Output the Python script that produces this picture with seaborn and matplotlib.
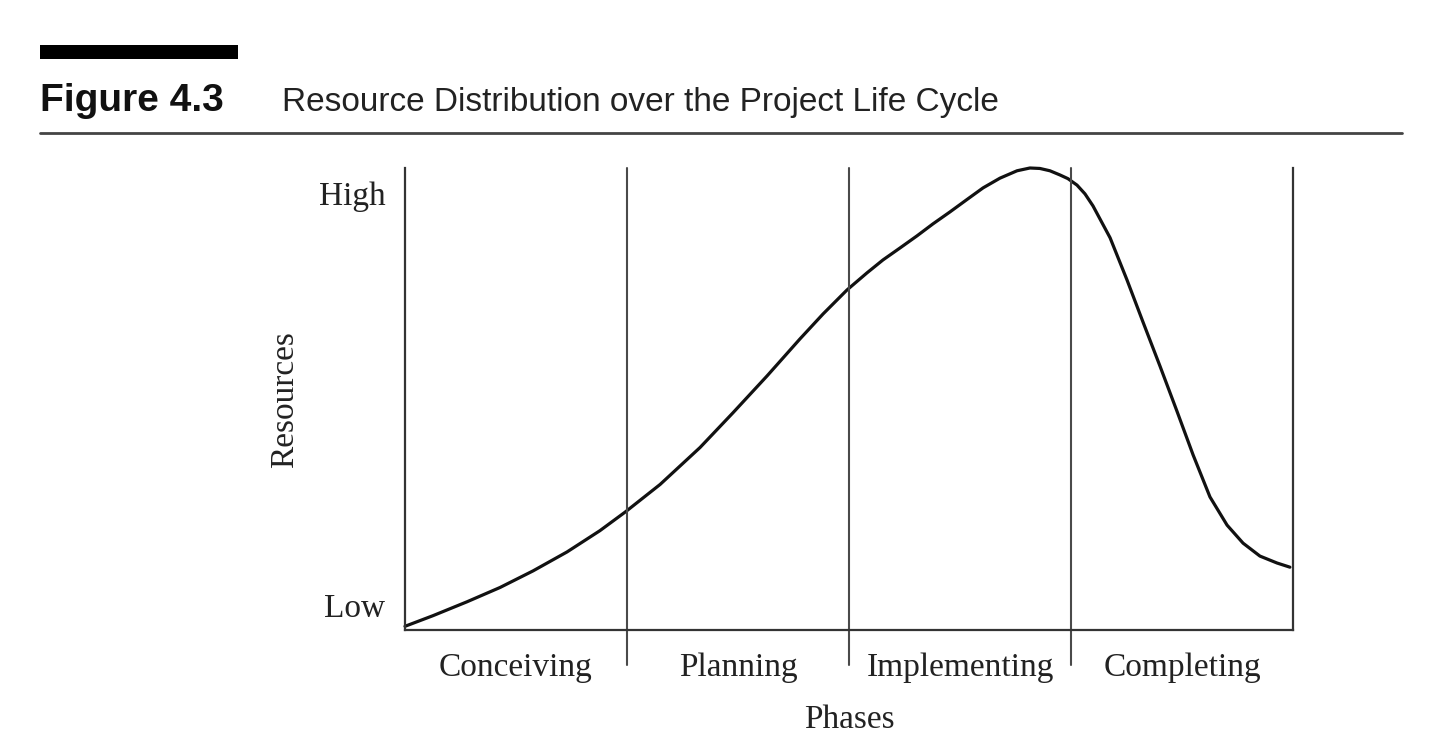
import matplotlib
matplotlib.use("Agg")
import matplotlib.pyplot as plt
import seaborn as sns
import pandas as pd
from matplotlib.lines import Line2D
from matplotlib.patches import Rectangle

# ---- data ----
phase_names = ["Conceiving", "Planning", "Implementing", "Completing"]
phase_bounds = [1, 2, 3, 4]
level_labels = ["Low", "High"]
level_values = [5.4, 94.6]
time_pos = [0.000, 0.126, 0.279, 0.428, 0.577, 0.730, 0.878, 0.991, 1.149,
            1.329, 1.477, 1.631, 1.779, 1.883, 1.991, 2.081, 2.153, 2.230,
            2.306, 2.378, 2.455, 2.532, 2.604, 2.680, 2.757, 2.815, 2.860,
            2.905, 2.950, 2.986, 3.027, 3.063, 3.099, 3.176, 3.252, 3.324,
            3.401, 3.477, 3.550, 3.626, 3.703, 3.775, 3.851, 3.928, 3.986]
resources = [0.8, 3.1, 6.1, 9.2, 12.8, 16.9, 21.5, 25.5, 31.5,
             39.5, 47.0, 55.0, 63.0, 68.4, 73.6, 77.3, 80.1, 82.7,
             85.3, 87.9, 90.5, 93.2, 95.7, 97.8, 99.4, 100.0, 99.9,
             99.4, 98.5, 97.7, 96.3, 94.4, 91.8, 84.9, 75.8, 66.7,
             57.1, 47.4, 37.9, 28.8, 22.7, 18.8, 16.0, 14.5, 13.6]

df = pd.DataFrame({"Phase position": time_pos, "Resources": resources})

sns.set_style("white")
plt.rcParams["font.family"] = ["Liberation Serif", "DejaVu Serif"]

W, H = 1440, 751
fig = plt.figure(figsize=(W / 100, H / 100), dpi=100)
ax = fig.add_axes([405 / W, 1 - 630 / H, 888 / W, 462 / H])

sns.lineplot(data=df, x="Phase position", y="Resources", ax=ax,
             color="#111111", linewidth=2.3, clip_on=False)
ax.lines[0].set_solid_joinstyle("round")

ax.set_xlim(0, 4)
ax.set_ylim(0, 100)

# phase boundary lines (extend below the axis)
for b in phase_bounds[:-1]:
    ax.axvline(b, ymin=-0.076, ymax=1.0, color="#4a4a4a", lw=1.5, clip_on=False)

ax.spines["top"].set_visible(False)
for s in ["left", "bottom", "right"]:
    ax.spines[s].set_color("#333333")
    ax.spines[s].set_linewidth(1.6)

ax.set_xticks([i + 0.5 for i in range(len(phase_names))])
ax.set_xticklabels(phase_names)
ax.set_yticks(level_values)
ax.set_yticklabels(level_labels)
ax.tick_params(axis="both", length=0, labelsize=24, colors="#222222")
ax.tick_params(axis="x", pad=16)
ax.tick_params(axis="y", pad=14)

ax.set_xlabel("Phases", fontsize=24, color="#222222")
ax.xaxis.set_label_coords(0.5, -0.195)
ax.xaxis.label.set_va("center")
ax.set_ylabel("Resources", fontsize=24, color="#222222")
ax.yaxis.set_label_coords(-0.135, 0.498)
ax.yaxis.label.set_va("center")

# title block
fig.add_artist(Rectangle((40 / W, 1 - 59 / H), 198 / W, 14 / H,
                         transform=fig.transFigure, color="black", lw=0))
fig.text(40 / W, 1 - 111 / H, "Figure 4.3", fontsize=28, fontweight="bold",
         family=["Liberation Sans", "DejaVu Sans"], va="baseline", ha="left",
         color="#111111")
fig.text(282 / W, 1 - 111 / H, "Resource Distribution over the Project Life Cycle",
         fontsize=24, family=["Liberation Sans", "DejaVu Sans"], va="baseline",
         ha="left", color="#222222")
fig.add_artist(Line2D([40 / W, 1402 / W], [1 - 133 / H, 1 - 133 / H],
                      transform=fig.transFigure, color="#444444", lw=2.0))

fig.savefig("out.png", dpi=100, facecolor="white")
